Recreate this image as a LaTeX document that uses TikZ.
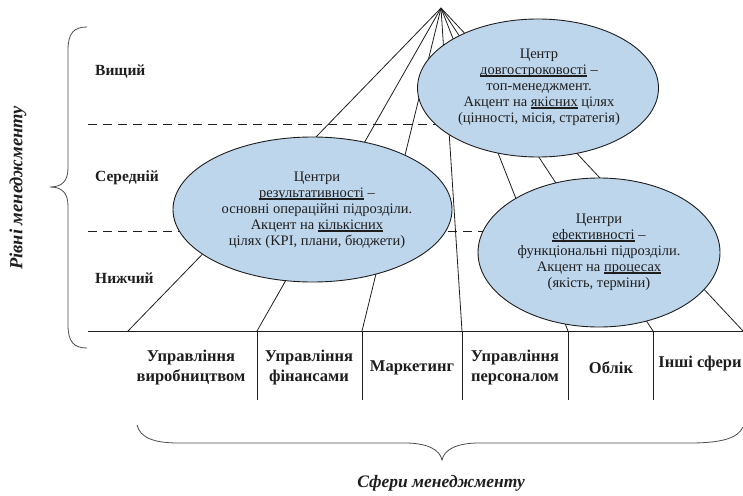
\documentclass[tikz,border=0pt]{standalone}
\usepackage{fontspec}
\setmainfont{Liberation Serif}
\usetikzlibrary{shapes.geometric}
\definecolor{cfill}{RGB}{190,214,236}
\definecolor{ink}{RGB}{30,30,30}
% underline with a heavier rule than \underline gives
\newcommand\ulx[1]{\setbox0\hbox{#1}\rlap{\rule[-3pt]{\wd0}{1.8pt}}\box0\relax}

\begin{document}
\begin{tikzpicture}[x=1pt,y=-1pt,
  level/.style={font=\bfseries\fontsize{15.5}{18}\selectfont, anchor=west, text=ink, inner sep=0},
  area/.style={font=\bfseries\fontsize{16.5}{20}\selectfont, align=center, text=ink, inner sep=0},
  centre/.style={ellipse, draw=ink, fill=cfill, line width=0.9pt, inner sep=0},
  ctext/.style={font=\fontsize{14.5}{16}\selectfont, align=center, text=ink, inner sep=0},
  axislabel/.style={font=\bfseries\itshape\fontsize{17.5}{20}\selectfont, text=ink, inner sep=0},
  fan/.style={draw=ink, line width=0.8pt},
  divider/.style={draw=ink, line width=0.8pt},
  guide/.style={draw=ink, line width=0.9pt, dash pattern=on 9pt off 6pt},
  bracket/.style={draw=ink!80, line width=0.8pt}]

\useasboundingbox (0,0) rectangle (743,495);

% apex of the fan and the points where its rays meet the base line
\coordinate (apex) at (441,8);
\coordinate (b0) at (88,331);
\coordinate (b1) at (128,331);
\coordinate (b2) at (257,331);
\coordinate (b3) at (362,331);
\coordinate (b4) at (462,331);
\coordinate (b5) at (568,331);
\coordinate (b6) at (653,331);
\coordinate (b7) at (743,331);
\coordinate (d2) at (257,400);
\coordinate (d3) at (362,400);
\coordinate (d4) at (462,400);
\coordinate (d5) at (568,400);
\coordinate (d6) at (653,400);

% level boundaries
\coordinate (g1a) at (88,124);
\coordinate (g1b) at (538,124);
\coordinate (g2a) at (88,231);
\coordinate (g2b) at (599,231);
\draw[guide] (g1a) -- (g1b);
\draw[guide] (g2a) -- (g2b);

% rays from the apex
\foreach \b in {b1,b2,b3,b4,b5,b6,b7}
  \draw[fan] (apex) -- (\b);

% base line and column dividers
\draw[divider] (b0) -- (b7);
\draw[divider] (b2) -- (d2);
\draw[divider] (b3) -- (d3);
\draw[divider] (b4) -- (d4);
\draw[divider] (b5) -- (d5);
\draw[divider] (b6) -- (d6);

% responsibility centres
\node[centre, minimum width=241pt, minimum height=138pt] (top) at (538,88) {};
\node[centre, minimum width=279pt, minimum height=145pt] (left) at (312.5,209.5) {};
\node[centre, minimum width=242pt, minimum height=149pt] (right) at (599,252.5) {};

\node[ctext] (toptext) at (539,87) {Центр\\ \ulx{довгостроковості} –\\ топ-менеджмент.\\ Акцент на \ulx{якісних} цілях\\ (цінності, місія, стратегія)};
\node[ctext] (lefttext) at (317,210) {Центри\\ \ulx{результативності} –\\ основні операційні підрозділи.\\ Акцент на \ulx{кількісних}\\ цілях (KPI, плани, бюджети)};
\node[ctext] (righttext) at (599,252) {Центри\\ \ulx{ефективності} –\\ функціональні підрозділи.\\ Акцент на \ulx{процесах}\\ (якість, терміни)};

% management levels
\node[level] (high) at (95,72) {Вищий};
\node[level] (mid) at (95,178) {Середній};
\node[level] (low) at (95,278) {Нижчий};

% management areas
\node[area] (a1) at (191,368) {Управління\\ виробництвом};
\node[area] (a2) at (309,368) {Управління\\ фінансами};
\node[area] (a3) at (412,368) {Маркетинг};
\node[area] (a4) at (515,368) {Управління\\ персоналом};
\node[area] (a5) at (611,368) {Облік};
\node[area] (a6) at (700,364) {Інші сфери};

% vertical brace for the levels
\draw[bracket] (87,27) .. controls (74,27) and (68,33) .. (68,50) -- (68,168)
  .. controls (68,181) and (62,187) .. (50,187)
  .. controls (62,187) and (68,193) .. (68,206) -- (68,325)
  .. controls (68,342) and (74,348) .. (87,348);
\node[axislabel, rotate=90, font=\bfseries\itshape\fontsize{18.5}{20}\selectfont] (levels) at (18,188) {Рівні менеджменту};

% horizontal brace for the areas
\draw[bracket] (137,425) .. controls (140,438) and (155,443) .. (178,443) -- (405,443)
  .. controls (428,443) and (440,450) .. (442,460)
  .. controls (444,450) and (456,443) .. (479,443) -- (690,443)
  .. controls (722,443) and (738,438) .. (743,427);
\node[axislabel] (areas) at (441,483) {Сфери менеджменту};

\end{tikzpicture}
\end{document}
